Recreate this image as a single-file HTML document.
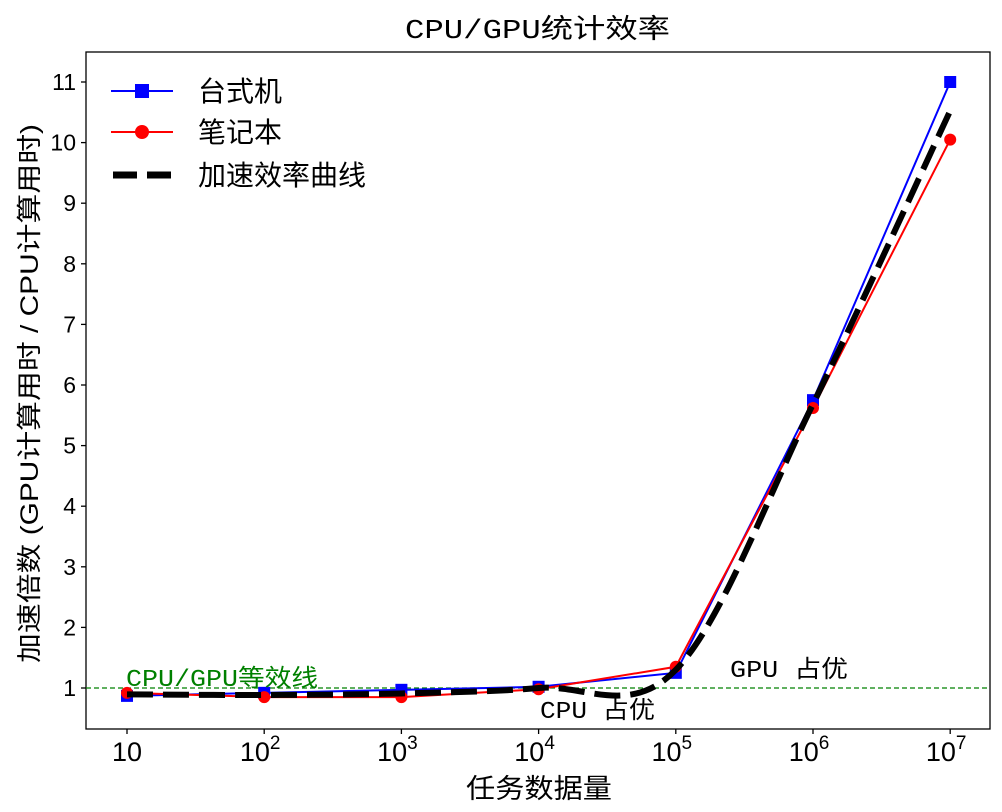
<!DOCTYPE html>
<html><head><meta charset="utf-8"><style>
body{margin:0;background:#fff}
svg text{font-family:"Liberation Sans","Noto Sans CJK SC",sans-serif}
.mono{font-family:"Liberation Mono","Noto Sans CJK SC",monospace}
</style></head><body>
<svg id="chart" width="1002" height="807" xmlns="http://www.w3.org/2000/svg">
<text class="mono" x="405" y="38" font-size="27" textLength="265" lengthAdjust="spacingAndGlyphs">CPU/GPU统计效率</text>
<rect x="86" y="52" width="904" height="677" fill="none" stroke="#000" stroke-width="1.3"/>
<g id="axes"></g>
<g id="series"></g>
<text x="466" y="798" font-size="27" textLength="146" lengthAdjust="spacingAndGlyphs">任务数据量</text>
<text transform="translate(38,663) rotate(-90)" font-size="25" textLength="539" lengthAdjust="spacingAndGlyphs">加速倍数 (GPU计算用时 / CPU计算用时)</text>
<text class="mono" x="126" y="686" font-size="24" fill="green" textLength="192" lengthAdjust="spacingAndGlyphs">CPU/GPU等效线</text>
<text class="mono" x="540" y="718" font-size="24" textLength="115" lengthAdjust="spacingAndGlyphs">CPU 占优</text>
<text class="mono" x="730" y="677" font-size="24" textLength="118" lengthAdjust="spacingAndGlyphs">GPU 占优</text>
<g>
<line x1="111" y1="91" x2="173" y2="91" stroke="blue" stroke-width="2"/><rect x="135" y="84" width="14" height="14" fill="blue"/>
<text x="198" y="101" font-size="28">台式机</text>
<line x1="111" y1="132" x2="173" y2="132" stroke="red" stroke-width="2"/><circle cx="142" cy="132" r="7" fill="red"/>
<text x="198" y="142" font-size="28">笔记本</text>
<line x1="113" y1="175" x2="173" y2="175" stroke="#000" stroke-width="7" stroke-dasharray="24,10"/>
<text x="198" y="185" font-size="28">加速效率曲线</text>
</g>
</svg>
<script>
const exponents=[1,2,3,4,5,6,7];
const desktop=[0.87,0.92,0.97,1.02,1.25,5.75,11.0];
const laptop=[0.92,0.85,0.85,0.98,1.35,5.62,10.05];
const yTicks=[1,2,3,4,5,6,7,8,9,10,11];
const NS="http://www.w3.org/2000/svg";
const X=e=>127+(e-1)*137.2;
const Y=v=>688-(v-1)*60.6;
function mk(t,a,p){const el=document.createElementNS(NS,t);for(const k in a)el.setAttribute(k,a[k]);p.appendChild(el);return el;}
const ax=document.getElementById('axes'),se=document.getElementById('series');
yTicks.forEach(v=>{
  const t=mk('line',{x1:81,x2:86,y1:Y(v),y2:Y(v),stroke:'#000','stroke-width':1.3},ax);
  
  
  const l=mk('text',{x:76,y:Y(v)+8,'font-size':23,'text-anchor':'end'},ax);l.textContent=v;
  
  
});
exponents.forEach(e=>{
  const t=mk('line',{x1:X(e),x2:X(e),y1:729,y2:734,stroke:'#000','stroke-width':1.3},ax);
  
  
  const l=mk('text',{x:X(e),y:761,'font-size':27,'text-anchor':'middle'},ax);
  
  
  if(e===1){l.textContent='10';}else{l.innerHTML='10<tspan dy="-12" font-size="19">'+e+'</tspan>';l.setAttribute('x',X(e)-4);}
});
const eq=mk('line',{x1:86,x2:990,y1:Y(1),y2:Y(1),stroke:'green','stroke-width':1.3,'stroke-dasharray':'5,3'},se);


function pts(a){return a.map((v,i)=>X(exponents[i])+','+Y(v)).join(' ');}
const bl=mk('polyline',{points:pts(desktop),fill:'none',stroke:'blue','stroke-width':2},se);


const rl=mk('polyline',{points:pts(laptop),fill:'none',stroke:'red','stroke-width':2},se);


desktop.forEach((v,i)=>{const m=mk('rect',{x:X(exponents[i])-6,y:Y(v)-6,width:12,height:12,fill:'blue'},se);
  
  });
laptop.forEach((v,i)=>{const m=mk('circle',{cx:X(exponents[i]),cy:Y(v),r:6,fill:'red'},se);
  
  });
const avg=desktop.map((v,i)=>(v+laptop[i])/2);
const P=avg.map((v,i)=>[X(exponents[i]),Y(v)]);
let d='M'+P[0][0]+','+P[0][1];
for(let i=0;i<P.length-1;i++){
  const p0=P[Math.max(0,i-1)],p1=P[i],p2=P[i+1],p3=P[Math.min(P.length-1,i+2)];
  const c1=[p1[0]+(p2[0]-p0[0])/6,p1[1]+(p2[1]-p0[1])/6];
  const c2=[p2[0]-(p3[0]-p1[0])/6,p2[1]-(p3[1]-p1[1])/6];
  d+=' C'+c1[0]+','+c1[1]+' '+c2[0]+','+c2[1]+' '+p2[0]+','+p2[1];
}
const cv=mk('path',{d:d,fill:'none',stroke:'#000','stroke-width':6,'stroke-dasharray':'26,10'},se);


</script>
</body></html>
